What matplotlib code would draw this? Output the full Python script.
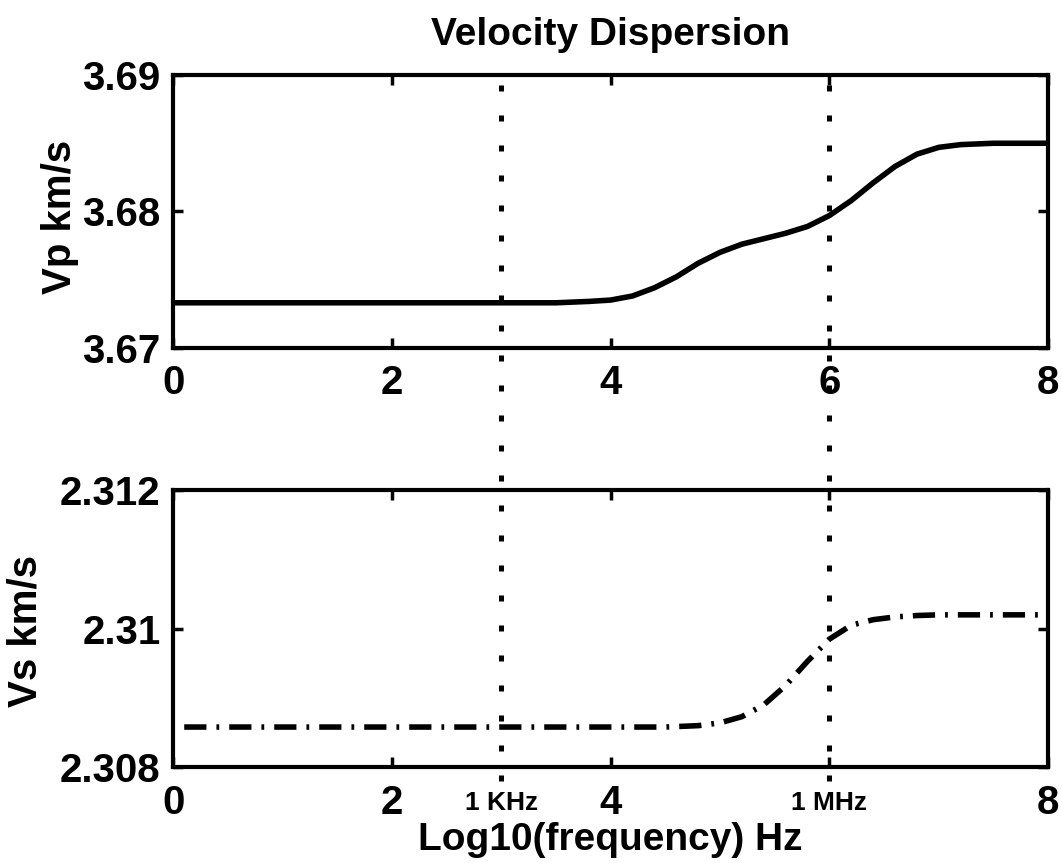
import matplotlib
matplotlib.use("Agg")
import matplotlib.pyplot as plt
from matplotlib.lines import Line2D
from matplotlib.transforms import blended_transform_factory

plt.rcParams['font.family'] = ['Liberation Sans', 'DejaVu Sans']
plt.rcParams['font.weight'] = 'bold'
plt.rcParams['axes.labelweight'] = 'bold'

vp_x = [0, 3.5, 3.8, 4.0, 4.2, 4.4, 4.6, 4.8, 5.0, 5.2, 5.4, 5.6, 5.8,
        6.0, 6.2, 6.4, 6.6, 6.8, 7.0, 7.2, 7.5, 8]
vp_y = [3.6733, 3.6733, 3.6734, 3.6735, 3.6738, 3.6744, 3.6752, 3.6762,
        3.6770, 3.6776, 3.6780, 3.6784, 3.6789, 3.6797, 3.6808, 3.6821,
        3.6833, 3.6842, 3.6847, 3.6849, 3.6850, 3.6850]

vs_x = [0, 4.5, 4.8, 5.0, 5.2, 5.4, 5.6, 5.8, 6.0, 6.2, 6.4, 6.6, 6.8, 7.0, 8]
vs_y = [2.30858, 2.30858, 2.30860, 2.30864, 2.30873, 2.30890, 2.30918,
        2.30953, 2.30985, 2.31005, 2.31013, 2.31017, 2.31019, 2.31020, 2.31020]

marker_x = [3, 6]
marker_labels = ['1 KHz', '1 MHz']
vp_ticks = [3.67, 3.68, 3.69]
vs_ticks = [2.308, 2.310, 2.312]
vs_tick_labels = ['2.308', '2.31', '2.312']
x_ticks = [0, 2, 4, 6, 8]
x_ticks_bottom = ['0', '2', '4', '', '8']

fig = plt.figure(figsize=(10.62, 8.63), dpi=100)
ax1 = fig.add_axes([0.163, 0.597, 0.824, 0.316])
ax2 = fig.add_axes([0.163, 0.111, 0.824, 0.321])

ax1.plot(vp_x, vp_y, color='black', lw=4, solid_capstyle='butt')
ax2.plot(vs_x, vs_y, color='black', lw=4,
         linestyle=(6.1, (4, 1.8, 0.5, 1.8)), dash_capstyle='butt')

ax1.set_xlim(0, 8)
ax1.set_ylim(3.67, 3.69)
ax2.set_xlim(0, 8)
ax2.set_ylim(2.308, 2.312)

ax1.set_yticks(vp_ticks)
ax1.set_yticklabels(['%.2f' % v for v in vp_ticks])
ax1.set_xticks(x_ticks)
ax1.set_xticklabels([str(v) for v in x_ticks])

ax2.set_yticks(vs_ticks)
ax2.set_yticklabels(vs_tick_labels)
ax2.set_xticks(x_ticks)
ax2.set_xticklabels(x_ticks_bottom)
ax2.xaxis.remove_overlapping_locs = False
ax2.set_xticks(marker_x, labels=marker_labels, minor=True)

for ax in (ax1, ax2):
    for s in ax.spines.values():
        s.set_linewidth(3)
    ax.tick_params(which='major', direction='in', length=7, width=2.5,
                   top=True, right=True, labelsize=29, pad=9)
    ax.tick_params(axis='x', which='major', pad=12)

ax2.tick_params(axis='x', which='minor', length=0, labelsize=19, pad=17)
for lbl in ax2.get_xticklabels(minor=True):
    lbl.set_fontweight('bold')

ax1.set_ylabel('Vp km/s', fontsize=29)
ax2.set_ylabel('Vs km/s', fontsize=29)
ax1.yaxis.set_label_coords(-0.107, 0.48)
ax2.yaxis.set_label_coords(-0.147, 0.49)
ax2.set_xlabel('Log10(frequency) Hz', fontsize=28, labelpad=0)
ax1.set_title('Velocity Dispersion', fontsize=28, fontweight='bold', pad=22)

# dotted markers running through both panels
trans = blended_transform_factory(ax1.transData, fig.transFigure)
for xv in marker_x:
    ln = Line2D([xv, xv], [0.095, 0.913], transform=trans, color='black',
                lw=3.6, linestyle=(0, (1.2, 4.8)), dash_capstyle='butt',
                zorder=5)
    fig.add_artist(ln)

fig.savefig('out.png', dpi=100)
